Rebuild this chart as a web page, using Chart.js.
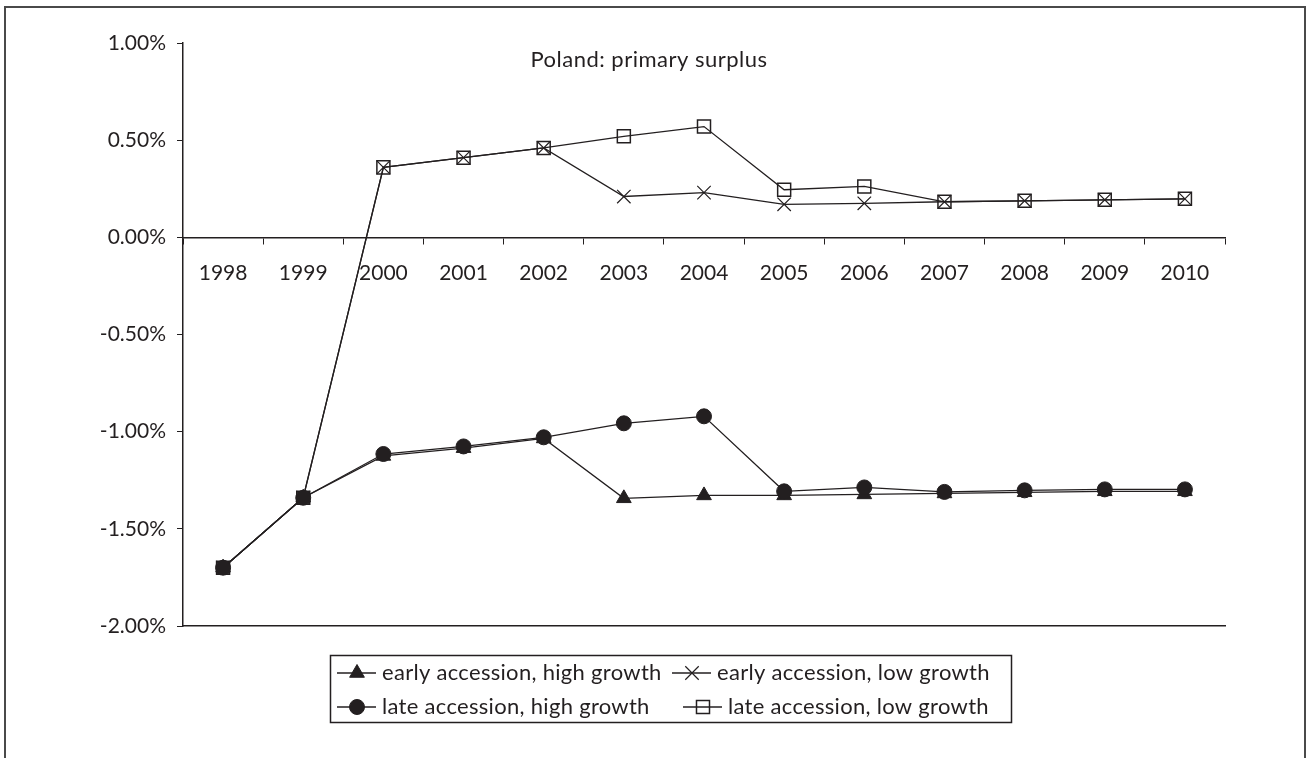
<!DOCTYPE html>
<html>
<head>
<meta charset="utf-8">
<script src="https://cdn.jsdelivr.net/npm/chart.js@4.4.1/dist/chart.umd.min.js"></script>
<style>
  html, body { margin: 0; padding: 0; background: #fff; overflow: hidden; }
  canvas { display: block; }
</style>
</head>
<body>
<canvas id="chart" width="1308" height="758"></canvas>
<script>
// values in percent
const years = ['1998', '1999', '2000', '2001', '2002', '2003', '2004', '2005', '2006', '2007', '2008', '2009', '2010'];
const earlyHigh = [-1.70, -1.34, -1.125, -1.085, -1.035, -1.343, -1.328, -1.328, -1.323, -1.318, -1.312, -1.307, -1.307];
const earlyLow = [-1.70, -1.34, 0.36, 0.41, 0.46, 0.21, 0.23, 0.17, 0.175, 0.183, 0.188, 0.193, 0.198];
const lateHigh = [-1.70, -1.34, -1.115, -1.076, -1.029, -0.957, -0.921, -1.307, -1.287, -1.310, -1.302, -1.297, -1.297];
const lateLow = [-1.70, -1.34, 0.36, 0.41, 0.46, 0.52, 0.57, 0.245, 0.262, 0.183, 0.188, 0.193, 0.198];
const seriesNames = ['early accession, high growth', 'early accession, low growth',
                     'late accession, high growth', 'late accession, low growth'];
const yMin = -2, yMax = 1, yStep = 0.5;
const chartTitle = 'Poland: primary surplus';

const INK = '#231f20';
const FONT = 'Lato, "Open Sans", sans-serif';

Chart.defaults.font.family = FONT;
Chart.defaults.font.size = 21;
Chart.defaults.color = INK;

// outer frame + title
const framePlugin = {
  id: 'frame',
  beforeDraw(chart) {
    const ctx = chart.ctx;
    ctx.save();
    ctx.strokeStyle = '#4a4a4a';
    ctx.lineWidth = 2;
    ctx.strokeRect(5, 7, 1300, 800);
    ctx.restore();
  },
  afterDraw(chart) {
    const ctx = chart.ctx;
    ctx.save();
    ctx.fillStyle = INK;
    ctx.font = '22px ' + FONT;
    ctx.letterSpacing = '0.5px';
    ctx.textAlign = 'center';
    ctx.textBaseline = 'middle';
    ctx.fillText(chartTitle, 649, 60);
    ctx.restore();
  }
};

// boxed legend, two rows of two
const legendPlugin = {
  id: 'boxLegend',
  afterDraw(chart) {
    const ctx = chart.ctx;
    ctx.save();
    ctx.strokeStyle = INK;
    ctx.lineWidth = 1.5;
    ctx.strokeRect(330.5, 655.5, 681, 67);
    const slots = [
      {x: 337, y: 673}, {x: 672, y: 673},
      {x: 337, y: 707}, {x: 683, y: 707}
    ];
    ctx.font = '22px ' + FONT;
    ctx.letterSpacing = '0.3px';
    ctx.textBaseline = 'middle';
    chart.data.datasets.forEach((ds, i) => {
      const s = slots[i];
      ctx.strokeStyle = INK;
      ctx.lineWidth = 1.3;
      ctx.beginPath();
      ctx.moveTo(s.x, s.y);
      ctx.lineTo(s.x + 39, s.y);
      ctx.stroke();
      ctx.fillStyle = ds.pointBackgroundColor;
      ctx.strokeStyle = INK;
      ctx.lineWidth = ds.pointBorderWidth;
      Chart.helpers.drawPoint(ctx, {
        pointStyle: ds.pointStyle, radius: ds.pointRadius,
        rotation: 0, borderWidth: ds.pointBorderWidth
      }, s.x + 20, s.y);
      ctx.fillStyle = INK;
      ctx.fillText(ds.label, s.x + 45, s.y);
    });
    ctx.restore();
  }
};

new Chart(document.getElementById('chart'), {
  type: 'line',
  data: {
    labels: years,
    datasets: [
      { label: seriesNames[0], data: earlyHigh, pointStyle: 'triangle', pointRadius: 8.5,
        pointBackgroundColor: INK, pointBorderWidth: 1, order: 2 },
      { label: seriesNames[1], data: earlyLow, pointStyle: 'crossRot', pointRadius: 9.5,
        pointBackgroundColor: INK, pointBorderWidth: 1.2, order: 3 },
      { label: seriesNames[2], data: lateHigh, pointStyle: 'circle', pointRadius: 7.5,
        pointBackgroundColor: INK, pointBorderWidth: 1, order: 1 },
      { label: seriesNames[3], data: lateLow, pointStyle: 'rect', pointRadius: 9.2,
        pointBackgroundColor: 'rgba(0,0,0,0)', pointBorderWidth: 1.5, order: 4 }
    ].map(ds => Object.assign({
      borderColor: INK, borderWidth: 1.3, pointBorderColor: INK,
      fill: false, tension: 0, pointHoverRadius: ds.pointRadius
    }, ds))
  },
  options: {
    responsive: false,
    animation: false,
    layout: { padding: { left: 0, right: 83, top: 43, bottom: 132 } },
    plugins: { legend: { display: false }, tooltip: { enabled: false } },
    scales: {
      x: {
        type: 'category',
        position: { y: 0 },
        offset: true,
        grid: { offset: true, drawOnChartArea: false, drawTicks: true, tickLength: 6, color: INK, lineWidth: 1 },
        border: { display: true, color: INK, width: 1.5 },
        ticks: { padding: 17, maxRotation: 0, autoSkip: false, font: { size: 21 } }
      },
      x2: {
        type: 'category',
        position: 'bottom',
        grid: { display: false },
        border: { display: true, color: INK, width: 1.5 },
        ticks: { display: false },
        afterFit(s) { s.height = 0; }
      },
      y: {
        min: yMin, max: yMax,
        grid: { drawOnChartArea: false, drawTicks: true, tickLength: 6, color: INK, lineWidth: 1 },
        border: { display: true, color: INK, width: 1.5 },
        ticks: {
          stepSize: yStep, padding: 11, font: { size: 21 },
          callback: v => v.toFixed(2) + '%'
        },
        afterFit(s) { s.width = 183; }
      }
    }
  },
  plugins: [framePlugin, legendPlugin]
});
</script>
</body>
</html>
